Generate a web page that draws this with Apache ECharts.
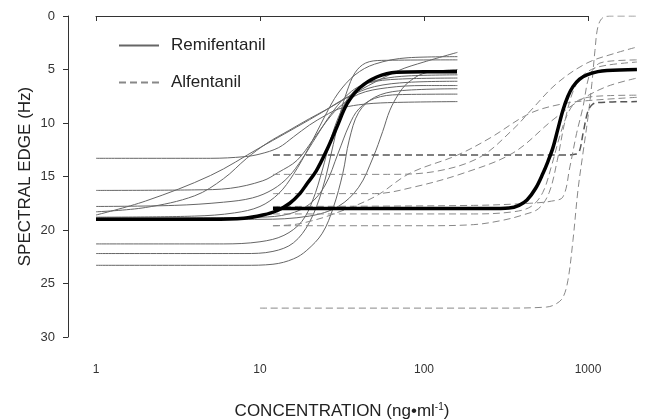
<!DOCTYPE html>
<html>
<head>
<meta charset="utf-8">
<script src="https://cdn.jsdelivr.net/npm/echarts@6/dist/echarts.min.js"></script>
<style>
    html, body { margin: 0; background: #fff; }
    #chart { width: 653px; height: 420px; }
</style>
</head>
<body>
<div id="chart"></div>
<script>
    // remifentanil, single subjects  [conc, spectral edge]
    var remi1 = [[1,18.6],[2,17.3],[5,14.9],[10,12.3],[20,9.7],[40,7.0],[70,5.1],[100,4.3],[160,3.4]];
    var remi2 = [[1,13.3],[5,13.3],[8,13.15],[10,12.9],[13,12.3],[16,11.3],[20,10.2],[25,9.3],[30,8.7],[40,8.3],[60,8.1],[160,8.0]];
    var remi3 = [[1,16.3],[4,16.25],[6.6,16.1],[10.4,15.4],[13,14.6],[16.8,13.5],[21,11.6],[25,10.0],[30,8.6],[40,7.3],[60,6.7],[100,6.5],[160,6.5]];
    var remi4 = [[1,17.8],[3,17.7],[6,17.4],[9,17.0],[12,16.2],[15,15.0],[18,13.4],[22,11.3],[27,9.2],[33,7.6],[40,6.6],[55,5.9],[80,5.6],[160,5.5]];
    var remi5 = [[1,18.3],[2,17.9],[4,16.8],[6,15.2],[8.3,13.3],[11,11.9],[15,10.7],[20,9.6],[25,8.8],[35,7.5],[50,6.6],[80,6.2],[160,6.1]];
    var remi6 = [[1,18.8],[4,18.7],[7,18.4],[10,17.8],[13,16.6],[16,14.8],[20,12.2],[25,9.3],[30,7.2],[38,5.5],[50,4.5],[80,3.9],[160,3.8]];
    var remi7 = [[1,21.3],[6,21.3],[10,21.1],[14,20.5],[18,19.2],[21,17.2],[24,14.4],[27,11.5],[31,9.0],[36,7.3],[45,6.3],[70,5.9],[160,5.8]];
    var remi8 = [[1,23.3],[8,23.3],[12,23.2],[16,22.7],[19.3,21.9],[24,20.3],[28,17.9],[32,14.7],[35,11.6],[40,9.0],[50,7.6],[70,7.0],[160,6.8]];
    var remi9 = [[1,22.2],[8,22.2],[12,22.0],[16,21.2],[20,19.3],[24,16.2],[28,12.0],[31,9.0],[34,7.0],[38,5.3],[44,4.4],[55,4.15],[160,4.1]];
    var remi10 = [[1,19.0],[10,19.0],[20,18.7],[30,17.8],[40,16.0],[49,13.2],[56,10.8],[62,8.8],[70,7.3],[79,6.3],[98,5.4],[130,5.1],[160,5.0]];
    var remi11 = [[1,18.9],[10,18.8],[15,18.5],[20,17.6],[25,15.8],[30,12.8],[35,10.2],[40,8.7],[50,7.7],[70,7.35],[160,7.3]];
    var remiMean = [[1,19.0],[5,19.0],[8,18.9],[10.4,18.6],[12.7,18.2],[15.2,17.5],[17.5,16.6],[19.3,15.7],[22,14.5],[25.6,12.5],[29.4,10.4],[34,8.2],[40.6,6.7],[51.5,5.7],[68,5.25],[100,5.2],[159,5.2]];

    // alfentanil, single subjects
    var alf1 = [[10,27.3],[300,27.3],[560,27.2],[640,26.9],[704,26.3],[755,24.7],[810,21.0],[869,16.3],[933,12.8],[1000,9.5],[1057,6.3],[1104,3.2],[1151,1.0],[1234,0.15],[1400,0],[1990,0]];
    var alf2 = [[12,19.6],[100,19.6],[200,19.5],[300,19.1],[400,18.6],[500,18.0],[580,16.5],[650,13.5],[720,10.0],[800,7.3],[900,5.8],[1050,5.0],[1300,4.6],[1990,4.3]];
    var alf3 = [[12,13.0],[300,13.0],[700,13.0],[850,12.9],[889,12.6],[933,11.0],[1000,8.9],[1060,8.3],[1130,8.1],[1990,8.0]];
    var alf4 = [[12,17.8],[200,17.7],[443,17.5],[600,17.3],[704,16.9],[776,14.1],[852,11.0],[933,8.5],[1012,5.7],[1100,4.8],[1183,4.4],[1400,4.2],[1990,4.1]];
    var alf5 = [[12,19.6],[16,19.5],[20,19.2],[27,18.6],[50,16.9],[82,14.7],[160,13.0],[253,11.4],[443,9.1],[704,8.2],[1012,7.9],[1990,7.6]];
    var alf6 = [[12,14.8],[60,14.8],[120,14.5],[219,13.2],[349,10.6],[450,8.8],[646,6.3],[986,4.4],[1450,3.5],[1990,2.9]];
    var alf7 = [[12,16.6],[50,16.6],[86,16.0],[173,14.7],[349,12.8],[612,9.7],[889,7.9],[1300,6.6],[1990,5.8]];
    var alf8 = [[12,18.5],[200,18.5],[350,18.3],[450,17.8],[530,16.5],[600,14.0],[680,11.0],[760,9.0],[850,8.0],[1000,7.6],[1300,7.45],[1990,7.4]];
    var alfMean = [[12,18.0],[250,18.0],[330,17.95],[380,17.7],[425,17.2],[480,16.1],[532,14.7],[570,13.6],[612,12.3],[655,10.6],[704,8.8],[755,7.5],[810,6.6],[890,5.9],[986,5.5],[1150,5.2],[1306,5.1],[1990,5.0]];

    var remiSubjects = [remi1, remi2, remi3, remi4, remi5, remi6, remi7, remi8, remi9, remi10, remi11];
    var alfSubjects = [alf1, alf2, alf3, alf4, alf5, alf6, alf7, alf8];

    var font = 'Liberation Sans, Arial, sans-serif';
    var series = [];

    // curves run past the printed 1000 tick, so they sit on a second, hidden
    // grid with the same scale (164 px per decade) that reaches 2000
    function curve(name, d, color, width, type, z) {
        return {
            name: name, type: 'line', data: d, xAxisIndex: 1, yAxisIndex: 1,
            symbol: 'none', smooth: 0.35, silent: true, z: z || 2,
            itemStyle: { color: color },
            lineStyle: { color: color, width: width, type: type || 'solid' }
        };
    }
    remiSubjects.forEach(function (d) {
        series.push(curve('Remifentanil', d, '#666', 1));
    });
    alfSubjects.forEach(function (d, i) {
        series.push(curve('Alfentanil', d, i === 2 ? '#555' : '#888', i === 2 ? 1.5 : 1, [7, 4]));
    });
    series.push(curve('remi mean', remiMean, '#000', 3.5, 'solid', 5));
    series.push(curve('alf mean', alfMean, '#000', 3.5, 'solid', 5));

    var myChart = echarts.init(document.getElementById('chart'));
    var option = {
        animation: false,
        backgroundColor: '#fff',
        grid: [
            { left: 96, right: 65, top: 16, bottom: 83, outerBoundsMode: 'none' },
            { left: 96, right: 15.7, top: 16, bottom: 83, outerBoundsMode: 'none' }
        ],
        legend: {
            data: ['Remifentanil', 'Alfentanil'],
            orient: 'vertical', left: 118, top: 37, padding: 0,
            itemWidth: 40, itemHeight: 14, itemGap: 20,
            itemStyle: { opacity: 0 },
            textStyle: { fontFamily: font, fontSize: 17, color: '#222', padding: [0, 0, 0, 7] }
        },
        xAxis: [{
            type: 'log', logBase: 10, min: 1, max: 1000, gridIndex: 0,
            position: 'bottom', offset: 16,
            name: 'CONCENTRATION (ng\u2022ml{sup|-1})',
            nameLocation: 'middle', nameGap: 49, nameMoveOverlap: false,
            nameTextStyle: {
                fontFamily: font, fontSize: 17, color: '#222',
                rich: { sup: { fontFamily: font, fontSize: 10, color: '#222', verticalAlign: 'top', padding: [0, 0, 9, 0] } }
            },
            axisLine: { show: true, lineStyle: { color: '#333', width: 1 } },
            axisTick: { show: true, inside: false, length: 5, lineStyle: { color: '#333' } },
            minorTick: { show: false },
            splitLine: { show: false },
            axisLabel: {
                margin: 11, fontFamily: font, fontSize: 12, color: '#333',
                formatter: function (v) { return Math.round(v); }
            }
        }, {
            type: 'log', logBase: 10, min: 1, max: 2000, gridIndex: 1, show: false
        }],
        yAxis: [{
            type: 'value', inverse: true, min: 0, max: 30, interval: 5, gridIndex: 0,
            offset: 28,
            name: 'SPECTRAL EDGE (Hz)',
            nameLocation: 'middle', nameGap: 34, nameMoveOverlap: false,
            nameTextStyle: { fontFamily: font, fontSize: 17, color: '#222' },
            axisLine: { show: true, lineStyle: { color: '#333', width: 1 } },
            axisTick: { show: true, inside: false, length: 5, lineStyle: { color: '#333' } },
            splitLine: { show: false },
            axisLabel: { margin: 13, fontFamily: font, fontSize: 13, color: '#333' }
        }, {
            type: 'value', inverse: true, min: 0, max: 30, gridIndex: 1, show: false
        }],
        series: series
    };
    myChart.setOption(option);
</script>
</body>
</html>
